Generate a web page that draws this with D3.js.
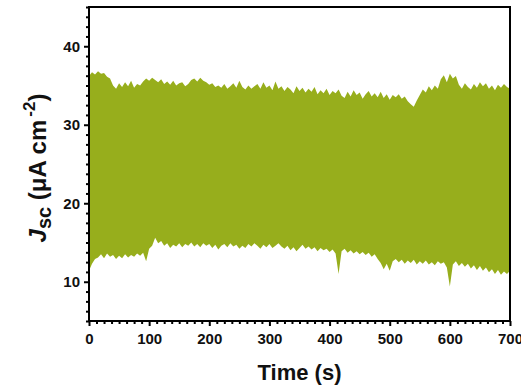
<!DOCTYPE html>
<html><head><meta charset="utf-8">
<script src="https://cdn.jsdelivr.net/npm/d3@7"></script>
<style>body{margin:0;background:#fff}svg{display:block}</style>
</head><body>
<svg id="c" width="521" height="390"></svg>
<script>
const times = d3.range(0, 701, 5);
const upper = [36.2,36.7,36.4,36.8,36.5,36.6,36.1,35.9,35.0,34.6,35.3,34.8,35.4,34.9,35.6,34.7,35.2,35.0,35.5,35.9,
35.6,36.0,35.7,35.4,35.8,35.2,35.5,35.1,35.6,35.0,35.3,35.4,34.9,35.2,35.7,35.9,35.5,36.0,35.6,35.4,
35.1,35.3,34.8,35.0,34.7,35.2,34.6,34.9,35.3,34.7,35.6,34.8,34.5,35.0,34.6,34.9,35.2,34.6,35.4,34.7,
35.0,34.4,35.5,34.6,34.9,34.3,34.8,34.5,34.0,34.9,34.3,34.7,34.1,34.6,34.2,34.8,33.9,34.4,34.0,34.6,
33.8,34.3,34.0,34.5,33.7,33.4,34.2,33.6,34.4,33.8,34.1,33.3,33.9,34.3,33.6,34.0,33.5,34.2,33.4,33.9,
33.2,33.8,33.5,33.9,33.3,33.6,33.0,32.6,32.3,33.1,33.8,34.5,34.1,34.9,34.4,35.0,34.6,35.8,36.3,35.4,
36.5,35.9,36.2,35.1,34.6,35.3,34.8,34.5,35.2,34.7,35.4,34.9,35.3,34.6,35.0,34.4,35.1,34.7,35.2,34.8,34.6];
const lower = [11.4,12.3,12.9,13.1,13.5,13.0,13.6,13.2,13.4,12.9,13.3,13.0,13.5,13.1,13.4,13.2,13.6,13.3,13.7,12.6,
14.2,14.6,15.6,14.9,15.2,14.6,14.9,14.3,14.7,14.5,14.9,14.4,14.8,14.6,15.0,14.5,14.8,14.4,14.9,14.6,
14.8,14.3,14.7,14.1,14.6,14.8,14.4,14.9,14.5,14.7,14.2,14.6,14.3,14.8,14.5,14.9,14.6,14.2,14.7,14.4,
14.8,14.3,14.6,14.9,14.5,14.2,14.6,14.0,14.4,13.9,14.3,14.7,14.2,14.5,14.1,14.4,13.9,14.3,14.0,14.2,
13.8,14.1,13.6,11.0,13.9,14.2,13.7,14.0,13.6,13.9,13.5,13.8,13.4,13.7,13.2,13.5,12.9,12.4,11.6,12.3,
11.4,12.6,12.9,12.5,12.8,12.3,12.7,12.4,12.8,12.2,12.6,12.3,12.7,12.2,12.5,12.1,12.6,12.3,12.5,11.8,
9.4,12.2,12.6,12.0,12.4,11.9,12.3,11.7,12.1,11.5,12.0,11.4,11.8,11.2,11.6,11.0,11.5,10.9,11.3,11.0,11.4];
const xTicks = [0,100,200,300,400,500,600,700];
const yTicks = [10,20,30,40];

const svg = d3.select("#c");
const m = {l:89, t:7, r:510, b:321};
const x = d3.scaleLinear().domain([0,700]).range([m.l, m.r]);
const y = d3.scaleLinear().domain([5,45]).range([m.b, m.t]);
const green = "#97ae1c";

const area = d3.area().x((d,i)=>x(times[i])).y0((d,i)=>y(lower[i])).y1(d=>y(d)).curve(d3.curveLinear);
svg.append("path").datum(upper).attr("d", area).attr("fill", green);

const font = "'Liberation Sans', Arial, sans-serif";
const xMinor = d3.range(0, 701, 12.5).filter(v=>v%100!==0);
const yMinor = d3.range(5, 45.01, 1.25).filter(v=>v%10!==0);

function style(g){
  g.select(".domain").remove();
  g.selectAll("line").attr("stroke","#000").attr("stroke-width",2);
  g.selectAll("text").attr("font-family",font).attr("font-weight","bold").attr("font-size",15).attr("fill","#111");
}
svg.append("g").attr("transform",`translate(0,${m.b})`)
  .call(d3.axisBottom(x).tickValues(xMinor).tickSize(3).tickFormat("")).call(style);
svg.append("g").attr("transform",`translate(0,${m.b})`)
  .call(d3.axisBottom(x).tickValues(xTicks).tickSize(5).tickPadding(7).tickFormat(d3.format("d"))).call(style);
svg.append("g").attr("transform",`translate(${m.l},0)`)
  .call(d3.axisLeft(y).tickValues(yMinor).tickSize(3).tickFormat("")).call(style);
svg.append("g").attr("transform",`translate(${m.l},0)`)
  .call(d3.axisLeft(y).tickValues(yTicks).tickSize(5).tickPadding(4).tickFormat(d3.format("d"))).call(style);

svg.append("rect").attr("x",m.l).attr("y",m.t).attr("width",m.r-m.l).attr("height",m.b-m.t)
  .attr("fill","none").attr("stroke","#000").attr("stroke-width",2);

svg.append("text").attr("x",(m.l+m.r)/2).attr("y",380).attr("text-anchor","middle")
  .attr("font-family",font).attr("font-weight","bold").attr("font-size",22).attr("fill","#111").text("Time (s)");

const yl = svg.append("text").attr("transform","translate(46,168) rotate(-90)").attr("text-anchor","middle")
  .attr("font-family",font).attr("font-weight","bold").attr("font-size",24).attr("fill","#111");
yl.append("tspan").attr("font-style","italic").text("J");
yl.append("tspan").attr("font-size",20).attr("dy",5).text("sc");
yl.append("tspan").attr("dy",-5).text(" (μA cm");
yl.append("tspan").attr("font-size",17).attr("dx",3).attr("dy",-11).text("-2");
yl.append("tspan").attr("dy",11).text(")");
</script>
</body></html>
